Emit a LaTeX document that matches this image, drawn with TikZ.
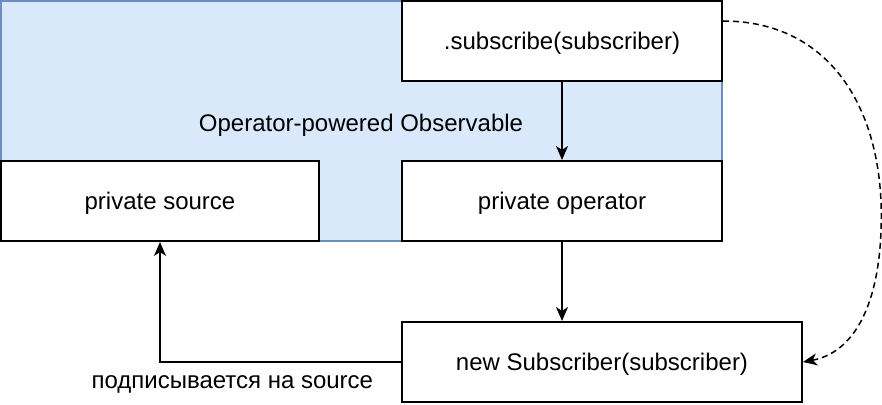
\documentclass[tikz,border=0pt]{standalone}
\usepackage{fontspec}
\setmainfont{Liberation Sans}
\usetikzlibrary{arrows.meta}
\definecolor{obsfill}{HTML}{DAE8FC}
\definecolor{obsline}{HTML}{6C8EBF}
\begin{document}
\begin{tikzpicture}
  [x=1pt,y=-1pt,every node/.style={rectangle,font=\fontsize{24}{28}\selectfont},
   box/.style={draw,fill=white,line width=2pt,minimum height=80pt,text depth=0pt},
   link/.style={line width=1.5pt,-{Stealth[length=14pt,width=12pt,inset=4pt]}}]
  \useasboundingbox (-1,-1) rectangle (881,403);
  \node (obs)[draw=obsline,fill=obsfill,line width=2pt,minimum width=721pt,minimum height=240pt] at (360.5,120) {};
  \node (title) at (360,124) {Operator-powered Observable};
  \node (subscribe)[box,minimum width=320pt] at (561,40) {.subscribe(subscriber)};
  \node (source)[box,minimum width=318pt] at (159,200) {private source};
  \node (operator)[box,minimum width=320pt] at (561,200) {private operator};
  \node (newsub)[box,minimum width=400pt] at (601,361) {new Subscriber(subscriber)};

  \foreach \from/\to in {subscribe/operator}
    \draw[link] (\from) -- (\to);
  \draw[link] (operator.south) -- (operator.south |- newsub.north);
  \draw[link] (newsub.west) -| node (subtext)[pos=0.35,below,yshift=-9pt] {подписывается на source} (source.south);
  \draw[link,dash pattern=on 6pt off 4pt] ([yshift=20pt]subscribe.east)
    .. controls (830,20) and (885,110) .. (880,230)
    .. controls (877,310) and (850,352) .. (newsub.east);

\end{tikzpicture}
\end{document}
